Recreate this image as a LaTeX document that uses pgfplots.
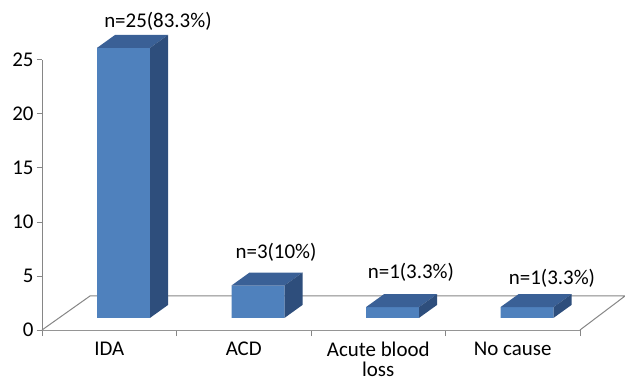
\documentclass[border=0pt]{standalone}
\usepackage{fontspec}
\setmainfont{Carlito}
\usepackage{pgfplots}
\usepackage{pgfplotstable}
\pgfplotsset{compat=1.18}
\definecolor{frontc}{RGB}{79,129,189}
\definecolor{topc}{RGB}{58,96,150}
\definecolor{sidec}{RGB}{46,78,124}
\definecolor{axgray}{RGB}{134,134,134}

\pgfplotstableread{
idx v
0 25
1 3
2 1
3 1
}\bardata

\begin{document}
\begin{tikzpicture}[font=\fontsize{21}{19}\selectfont]
\begin{axis}[
  scale only axis, width=538bp, height=270bp,
  xmin=0, xmax=4, ymin=0, ymax=25,
  clip=false,
  axis x line=bottom, axis y line=left,
  axis line style={draw=axgray, line width=1bp, -},
  every outer x axis line/.append style={-},
  every outer y axis line/.append style={-},
  tick style={draw=axgray, line width=1bp},
  tick align=outside,
  ytick={0,5,10,15,20,25},
  major tick length=5bp,
  minor tick length=6bp,
  xtick={0.5,1.5,2.5,3.5},
  xticklabels={IDA,ACD,{Acute blood\\loss},No cause},
  minor xtick={0,1,2,3,4},
  major x tick style={draw=none},
  xticklabel style={align=center, yshift=-6bp, inner sep=1bp, font=\fontsize{21}{19.5}\selectfont},
  yticklabel style={xshift=0bp},
  /pgf/number format/assume math mode=true,
]
\addplot[draw=axgray, line width=1bp, fill=white, forget plot]
  coordinates {(0,0) (0.357,3.15) (4.335,3.15) (4,0)};
\node at (axis cs:0.862,28.6) {n=25(83.3\%)};
\node at (axis cs:1.740,7.22) {n=3(10\%)};
\node at (axis cs:2.743,5.37) {n=1(3.3\%)};
\node at (axis cs:3.792,4.81) {n=1(3.3\%)};
\end{axis}
\begin{axis}[
  scale only axis, width=538bp, height=270bp,
  xmin=0, xmax=4, ymin=-1.12, ymax=23.88,
  hide axis, clip=false,
]
\addplot[ybar, bar width=53bp, fill=frontc, draw=none]
  table[x expr=\thisrow{idx}+0.606, y=v]{\bardata};
% IDA
\addplot[fill=topc, draw=none] coordinates {(0.409,25) (0.543,26.2) (0.937,26.2) (0.803,25)} --cycle;
\addplot[fill=sidec, draw=none] coordinates {(0.803,0) (0.937,1.2) (0.937,26.2) (0.803,25)} --cycle;
% ACD
\addplot[fill=topc, draw=none] coordinates {(1.409,3) (1.543,4.2) (1.937,4.2) (1.803,3)} --cycle;
\addplot[fill=sidec, draw=none] coordinates {(1.803,0) (1.937,1.2) (1.937,4.2) (1.803,3)} --cycle;
% Acute blood loss
\addplot[fill=topc, draw=none] coordinates {(2.409,1) (2.543,2.2) (2.937,2.2) (2.803,1)} --cycle;
\addplot[fill=sidec, draw=none] coordinates {(2.803,0) (2.937,1.2) (2.937,2.2) (2.803,1)} --cycle;
% No cause
\addplot[fill=topc, draw=none] coordinates {(3.409,1) (3.543,2.2) (3.937,2.2) (3.803,1)} --cycle;
\addplot[fill=sidec, draw=none] coordinates {(3.803,0) (3.937,1.2) (3.937,2.2) (3.803,1)} --cycle;
\end{axis}
\pgfresetboundingbox
\path (-42bp,-51bp) rectangle (583bp,330bp);
\end{tikzpicture}
\end{document}
